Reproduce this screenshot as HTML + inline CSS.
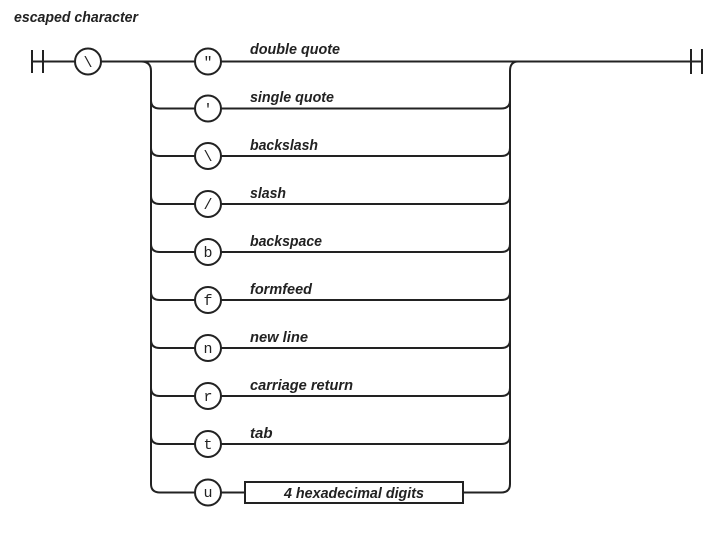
<!DOCTYPE html>
<html><head><meta charset="utf-8"><style>
html,body{margin:0;padding:0;background:#fff;}
svg{display:block;}
.l{font-family:"Liberation Sans",sans-serif;font-style:italic;font-weight:bold;font-size:15px;fill:#222;}
.c{font-family:"Liberation Mono",monospace;font-size:15px;fill:#222;}
</style></head><body>
<svg width="728" height="536" viewBox="0 0 728 536" xmlns="http://www.w3.org/2000/svg">
<g stroke="#222" stroke-width="2" fill="none">
<path d="M32 50V73M43 50V73M32 61.5H75M101 61.5H702"/>
<circle cx="88" cy="61.5" r="13" fill="#fff"/>
<path d="M141 61.5Q151 61.5 151 71V484Q151 492.5 160 492.5"/>
<path d="M691 49V74M702 49V74"/>
<path d="M518 61.5Q510 61.5 510 71V484Q510 492.5 501 492.5"/>
<path d="M151 100.5Q151 108.5 160 108.5H501Q510 108.5 510 100.5"/>
<path d="M151 148Q151 156 160 156H501Q510 156 510 148"/>
<path d="M151 196Q151 204 160 204H501Q510 204 510 196"/>
<path d="M151 244Q151 252 160 252H501Q510 252 510 244"/>
<path d="M151 292Q151 300 160 300H501Q510 300 510 292"/>
<path d="M151 340Q151 348 160 348H501Q510 348 510 340"/>
<path d="M151 388Q151 396 160 396H501Q510 396 510 388"/>
<path d="M151 436Q151 444 160 444H501Q510 444 510 436"/>
<path d="M160 492.5H501"/>
<g fill="#fff">
<circle cx="208" cy="61.5" r="13"/><circle cx="208" cy="108.5" r="13"/><circle cx="208" cy="156" r="13"/>
<circle cx="208" cy="204" r="13"/><circle cx="208" cy="252" r="13"/><circle cx="208" cy="300" r="13"/>
<circle cx="208" cy="348" r="13"/><circle cx="208" cy="396" r="13"/><circle cx="208" cy="444" r="13"/>
<circle cx="208" cy="492.5" r="13"/>
<rect x="245" y="482" width="218" height="21"/>
</g>
</g>
<text class="l" x="14" y="22" font-size="14" textLength="124" lengthAdjust="spacingAndGlyphs">escaped character</text>
<g class="c" text-anchor="middle">
<text x="88" y="67">\</text>
<text x="208" y="67">"</text><text x="208" y="114">'</text><text x="208" y="161">\</text>
<text x="208" y="209">/</text><text x="208" y="257">b</text><text x="208" y="305">f</text>
<text x="208" y="353">n</text><text x="208" y="401">r</text><text x="208" y="449">t</text>
<text x="208" y="497">u</text>
</g>
<g class="l">
<text x="250" y="54" textLength="90" lengthAdjust="spacingAndGlyphs">double quote</text>
<text x="250" y="102" textLength="84" lengthAdjust="spacingAndGlyphs">single quote</text>
<text x="250" y="150" textLength="68" lengthAdjust="spacingAndGlyphs">backslash</text>
<text x="250" y="198" textLength="36" lengthAdjust="spacingAndGlyphs">slash</text>
<text x="250" y="246" textLength="72" lengthAdjust="spacingAndGlyphs">backspace</text>
<text x="250" y="294" textLength="62" lengthAdjust="spacingAndGlyphs">formfeed</text>
<text x="250" y="342" textLength="58" lengthAdjust="spacingAndGlyphs">new line</text>
<text x="250" y="390" textLength="103" lengthAdjust="spacingAndGlyphs">carriage return</text>
<text x="250" y="438">tab</text>
<text x="284" y="498" textLength="140" lengthAdjust="spacingAndGlyphs">4 hexadecimal digits</text>
</g>
</svg>
</body></html>
